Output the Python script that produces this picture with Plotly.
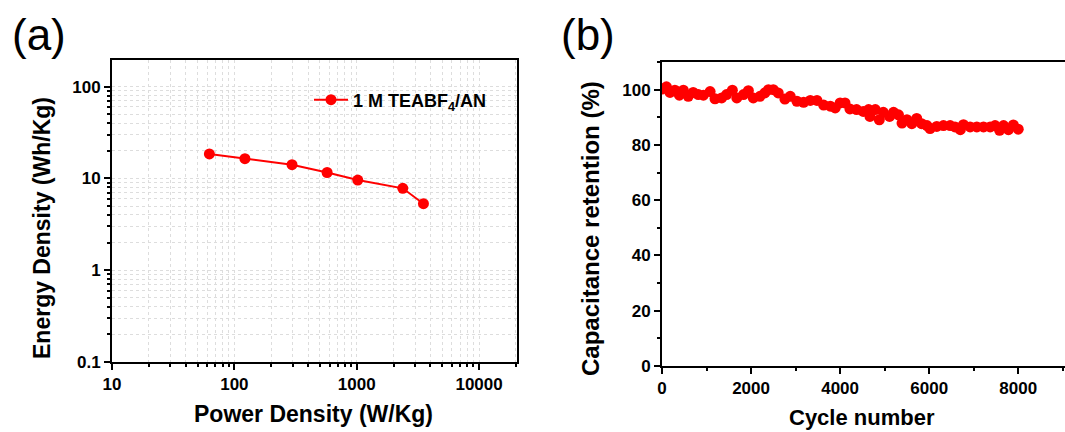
import plotly.graph_objects as go

# ---- Panel (a) data: Ragone plot ----
power_density = [62.5, 122, 296, 573, 1020, 2380, 3510]
energy_density = [18.5, 16.4, 14.1, 11.6, 9.6, 7.8, 5.3]
series_a_name = "1 M TEABF<sub>4</sub>/AN"
a_tickvals_x = [10, 100, 1000, 10000]
a_ticktext_x = ["10", "100", "1000", "10000"]
a_tickvals_y = [0.1, 1, 10, 100]
a_ticktext_y = ["0.1", "1", "10", "100"]

# ---- Panel (b) data: cycling stability ----
cycle_number = [0, 100, 180, 290, 390, 480, 590, 700, 815, 930, 1080, 1190, 1340, 1450,
                1580, 1680, 1830, 1940, 2050, 2200, 2310, 2390, 2500, 2610, 2760, 2880,
                3030, 3180, 3330, 3480, 3630, 3780, 3890, 4000, 4110, 4220, 4370, 4520,
                4640, 4670, 4790, 4880, 4970, 5110, 5200, 5310, 5390, 5500, 5610, 5720,
                5830, 5950, 6020, 6170, 6320, 6470, 6580, 6700, 6770, 6920, 7070, 7220,
                7370, 7480, 7580, 7670, 7780, 7890, 8000]
retention = [100.2, 101.0, 99.0, 99.8, 98.0, 99.8, 97.6, 99.0, 98.2, 98.0, 99.3, 96.7,
             97.0, 98.2, 99.8, 97.0, 98.2, 99.6, 97.0, 97.6, 98.8, 100.0, 100.0, 98.8,
             96.6, 97.6, 95.8, 95.4, 96.1, 96.1, 94.4, 94.0, 93.4, 95.2, 95.2, 93.0,
             92.8, 92.1, 92.8, 90.3, 92.8, 89.1, 91.8, 90.3, 91.8, 90.9, 87.9, 89.1,
             87.7, 89.6, 87.7, 87.0, 85.9, 86.7, 87.0, 87.0, 86.5, 85.5, 87.3, 86.5,
             86.5, 86.5, 86.5, 87.0, 85.3, 87.0, 85.5, 87.2, 85.7]
b_tickvals_x = [0, 2000, 4000, 6000, 8000]
b_ticktext_x = ["0", "2000", "4000", "6000", "8000"]
b_tickvals_y = [0, 20, 40, 60, 80, 100]
b_ticktext_y = ["0", "20", "40", "60", "80", "100"]

RED = "#ff0000"
W, H = 1065, 432
FONT = "Liberation Sans, Arial, sans-serif"

# minor log ticks (2..9 in every decade)
minor_x = [m * 10 ** d for d in range(1, 5) for m in range(2, 10)]
minor_y = [m * 10.0 ** d for d in range(-1, 3) for m in range(2, 10)]

fig = go.Figure()

fig.add_trace(go.Scatter(
    x=power_density, y=energy_density, name=series_a_name,
    mode="lines+markers",
    line=dict(color=RED, width=2),
    marker=dict(color=RED, size=11),
    xaxis="x", yaxis="y", showlegend=True,
))

fig.add_trace(go.Scatter(
    x=cycle_number, y=retention, name="retention",
    mode="markers",
    marker=dict(color=RED, size=11, line=dict(width=0)),
    xaxis="x2", yaxis="y2", showlegend=False,
))

tickfont = dict(family=FONT, size=17, color="black", weight="bold")
common = dict(showline=True, linecolor="black", linewidth=2, ticks="outside",
              tickwidth=1.5, tickcolor="black", ticklen=6, tickfont=tickfont,
              zeroline=False)
GRID = "#dddddd"

fig.update_layout(
    width=W, height=H,
    margin=dict(l=0, r=0, t=0, b=0, autoexpand=False),
    paper_bgcolor="white", plot_bgcolor="white",
    font=dict(family=FONT, color="black"),
    hovermode=False,
    xaxis=dict(
        type="log", range=[1, 4.31], domain=[112 / W, 517 / W], anchor="y",
        tickmode="array", tickvals=a_tickvals_x, ticktext=a_ticktext_x, mirror=True,
        showgrid=True, gridcolor=GRID, griddash="dot", gridwidth=1,
        minor=dict(tickmode="array", tickvals=minor_x, ticks="outside", ticklen=3,
                   tickwidth=1.5, tickcolor="black",
                   showgrid=True, gridcolor=GRID, griddash="dot", gridwidth=1),
        **common,
    ),
    yaxis=dict(
        type="log", range=[-1, 2.29], domain=[1 - 362 / H, 1 - 60 / H], anchor="x",
        tickmode="array", tickvals=a_tickvals_y, ticktext=a_ticktext_y, mirror=True,
        showgrid=True, gridcolor=GRID, griddash="dot", gridwidth=1,
        minor=dict(tickmode="array", tickvals=minor_y, ticks="outside", ticklen=3,
                   tickwidth=1.5, tickcolor="black",
                   showgrid=True, gridcolor=GRID, griddash="dot", gridwidth=1),
        **common,
    ),
    xaxis2=dict(
        range=[0, 9050], domain=[662 / W, 1.0], anchor="y2",
        tickmode="array", tickvals=b_tickvals_x, ticktext=b_ticktext_x,
        mirror=True, showgrid=False,
        minor=dict(ticks="outside", ticklen=3, tickwidth=1.5, tickcolor="black",
                   tickmode="linear", tick0=0, dtick=1000),
        **common,
    ),
    yaxis2=dict(
        range=[0, 110], domain=[1 - 366 / H, 1 - 62 / H], anchor="x2",
        tickmode="array", tickvals=b_tickvals_y, ticktext=b_ticktext_y,
        mirror=False, showgrid=False,
        minor=dict(ticks="outside", ticklen=3, tickwidth=1.5, tickcolor="black",
                   tickmode="linear", tick0=0, dtick=10),
        **common,
    ),
    legend=dict(
        x=309 / W, y=1 - 100 / H, xanchor="left", yanchor="middle",
        bgcolor="rgba(0,0,0,0)", borderwidth=0,
        font=dict(family=FONT, size=18, color="black", weight="bold"),
        itemwidth=34,
    ),
)

title_font = dict(family=FONT, size=23, color="black", weight="bold")
annotations = [
    dict(text="Power Density (W/Kg)", x=313 / W, y=1 - 414 / H, font=title_font),
    dict(text="Energy Density (Wh/Kg)", x=42 / W, y=1 - 228 / H, font=title_font,
         textangle=-90),
    dict(text="Cycle number", x=862 / W, y=1 - 417 / H,
         font=dict(family=FONT, size=22, color="black", weight="bold")),
    dict(text="Capacitance retention (%)", x=590 / W, y=1 - 229 / H,
         font=dict(family=FONT, size=24, color="black", weight="bold"), textangle=-90),
    dict(text="(a)", x=39 / W, y=1 - 35 / H, font=dict(family=FONT, size=44, color="black")),
    dict(text="(b)", x=588 / W, y=1 - 35 / H, font=dict(family=FONT, size=44, color="black")),
]
for a in annotations:
    a.update(xref="paper", yref="paper", showarrow=False, xanchor="center", yanchor="middle")
fig.update_layout(annotations=annotations)

fig.write_html(
    "out.html",
    config={"displayModeBar": False},
    post_script="document.body.style.margin='0';document.body.style.overflow='hidden';",
)
